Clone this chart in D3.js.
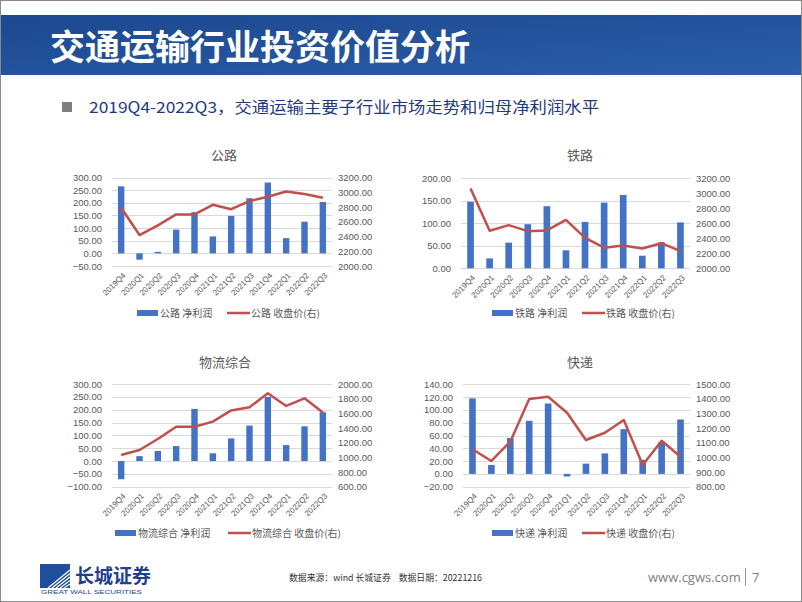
<!DOCTYPE html>
<html><head><meta charset="utf-8">
<script src="https://cdn.jsdelivr.net/npm/d3@7/dist/d3.min.js"></script>
<style>
html,body{margin:0;padding:0;background:#fff;}
svg{display:block;font-family:"Liberation Sans","Noto Sans CJK SC",sans-serif;}
</style></head>
<body>
<script>
// ---------- DATA ----------
const categories = ["2019Q4","2020Q1","2020Q2","2020Q3","2020Q4","2021Q1","2021Q2","2021Q3","2021Q4","2022Q1","2022Q2","2022Q3"];

const glProfit = [265,-25,6,94,163,67,148,218,280,60,125,203];
const glClose  = [2790,2420,2550,2700,2700,2830,2770,2880,2940,3010,2975,2925];
const glLeftTicks  = [-50,0,50,100,150,200,250,300];
const glRightTicks = [2000,2200,2400,2600,2800,3000,3200];

const tlProfit = [148,22,57,98,138,40,103,146,163,28,58,102];
const tlClose  = [3065,2500,2575,2495,2505,2645,2405,2275,2305,2265,2335,2230];
const tlLeftTicks  = [0,50,100,150,200];
const tlRightTicks = [2000,2200,2400,2600,2800,3000,3200];

const wlProfit = [-71,19,39,58,203,30,88,138,250,62,135,190];
const wlClose  = [1032,1100,1250,1418,1418,1487,1640,1683,1874,1701,1805,1610];
const wlLeftTicks  = [-100,-50,0,50,100,150,200,250,300];
const wlRightTicks = [600,800,1000,1200,1400,1600,1800,2000];

const kdProfit = [118,14,56,83,110,-4,16,32,70,22,49,85];
const kdClose  = [1056,976,1108,1400,1415,1306,1119,1169,1256,948,1114,1005];
const kdLeftTicks  = [-20,0,20,40,60,80,100,120,140];
const kdRightTicks = [800,900,1000,1100,1200,1300,1400,1500];

const chartNames = ["公路","铁路","物流综合","快递"];

// ---------- LAYOUT ----------
const W = 802, H = 602;
const svg = d3.select("body").append("svg").attr("width", W).attr("height", H);

const defs = svg.append("defs");
const grad = defs.append("linearGradient").attr("id","hdr").attr("x1","0").attr("y1","0").attr("x2","1").attr("y2","1");
grad.append("stop").attr("offset","0%").attr("stop-color","#1b4890");
grad.append("stop").attr("offset","100%").attr("stop-color","#2b5ea8");

svg.append("rect").attr("x",0).attr("y",0).attr("width",W).attr("height",H).attr("fill","#fff");

// header band
svg.append("rect").attr("x",1).attr("y",15).attr("width",W-2).attr("height",60).attr("fill","url(#hdr)");
svg.append("text").attr("x",50).attr("y",60).attr("fill","#fff")
  .style("font-family","'Noto Sans CJK SC',sans-serif").style("font-size","35px").style("font-weight","700")
  .attr("textLength",420).attr("lengthAdjust","spacingAndGlyphs")
  .text("交通运输行业投资价值分析");

// subtitle
svg.append("rect").attr("x",62).attr("y",102).attr("width",10).attr("height",10).attr("fill","#7f7f7f");
svg.append("text").attr("x",89).attr("y",113).attr("fill","#1f3a80")
  .style("font-family","'Noto Sans CJK SC',sans-serif").style("font-size","15.5px")
  .attr("textLength",510).attr("lengthAdjust","spacingAndGlyphs")
  .text("2019Q4-2022Q3，交通运输主要子行业市场走势和归母净利润水平");

// ---------- CHARTS ----------
const charts = [
  {name:chartNames[0], profit:glProfit, close:glClose, lt:glLeftTicks, rt:glRightTicks,
   x0:112, x1:332, yT:177.5, yB:266, titleX:224, titleY:160, legY:313, legX:137},
  {name:chartNames[1], profit:tlProfit, close:tlClose, lt:tlLeftTicks, rt:tlRightTicks,
   x0:461, x1:690, yT:178.3, yB:268.3, titleX:580, titleY:160, legY:313, legX:492},
  {name:chartNames[2], profit:wlProfit, close:wlClose, lt:wlLeftTicks, rt:wlRightTicks,
   x0:112, x1:332, yT:384, yB:486.7, titleX:225, titleY:367, legY:533, legX:115},
  {name:chartNames[3], profit:kdProfit, close:kdClose, lt:kdLeftTicks, rt:kdRightTicks,
   x0:463, x1:690, yT:384.3, yB:486.7, titleX:580, titleY:367, legY:533, legX:492}
];

const barColor = "#4472c4", lineColor = "#c0504d", txt = "#595959";
const fmt = d3.format(".2f");

charts.forEach(c => {
  const g = svg.append("g");
  const x = d3.scaleBand().domain(categories).range([c.x0, c.x1]).paddingInner(0).paddingOuter(0);
  const yL = d3.scaleLinear().domain([d3.min(c.lt), d3.max(c.lt)]).range([c.yB, c.yT]);
  const yR = d3.scaleLinear().domain([d3.min(c.rt), d3.max(c.rt)]).range([c.yB, c.yT]);

  // title
  g.append("text").attr("x",c.titleX).attr("y",c.titleY).attr("text-anchor","middle")
    .attr("fill",txt).style("font-size","13px").style("font-family","'Noto Sans CJK SC',sans-serif").text(c.name);

  // gridlines
  g.append("g").selectAll("line").data(c.lt).join("line")
    .attr("x1",c.x0).attr("x2",c.x1).attr("y1",d=>Math.round(yL(d))+0.5).attr("y2",d=>Math.round(yL(d))+0.5)
    .attr("stroke","#d9d9d9").attr("stroke-width",1);

  // left axis
  const la = d3.axisLeft(yL).tickValues(c.lt).tickFormat(fmt).tickSize(0).tickPadding(10);
  const lg = g.append("g").attr("transform",`translate(${c.x0},0)`).call(la);
  lg.select(".domain").remove();
  lg.selectAll("text").attr("fill",txt).style("font-size","9.5px").style("font-family","'Liberation Sans',sans-serif");

  // right axis
  const ra = d3.axisRight(yR).tickValues(c.rt).tickFormat(fmt).tickSize(0).tickPadding(6);
  const rg = g.append("g").attr("transform",`translate(${c.x1},0)`).call(ra);
  rg.select(".domain").remove();
  rg.selectAll("text").attr("fill",txt).style("font-size","9.5px").style("font-family","'Liberation Sans',sans-serif");

  // bars
  const bw = x.bandwidth()*0.35;
  g.append("g").selectAll("rect").data(c.profit).join("rect")
    .attr("x",(d,i)=>x(categories[i])+x.bandwidth()/2-bw/2)
    .attr("width",bw)
    .attr("y",d=>Math.min(yL(d),yL(0)))
    .attr("height",d=>Math.abs(yL(d)-yL(0)))
    .attr("fill",barColor);

  // line
  const line = d3.line().x((d,i)=>x(categories[i])+x.bandwidth()/2).y(d=>yR(d));
  g.append("path").datum(c.close).attr("d",line).attr("fill","none")
    .attr("stroke",lineColor).attr("stroke-width",2.5).attr("stroke-linejoin","round");

  // x labels
  g.append("g").selectAll("text").data(categories).join("text")
    .attr("transform",d=>`translate(${x(d)+x.bandwidth()/2+3},${c.yB+8}) rotate(-45)`)
    .attr("text-anchor","end").attr("dy","0.35em")
    .attr("fill",txt).style("font-size","8px").style("font-family","'Liberation Sans',sans-serif")
    .text(d=>d);

  // legend
  const lgd = g.append("g").attr("transform",`translate(${c.legX},${c.legY})`);
  lgd.append("rect").attr("x",0).attr("y",-3).attr("width",21).attr("height",6).attr("fill",barColor);
  lgd.append("text").attr("x",23).attr("y",0).attr("dy","0.35em").attr("fill",txt)
    .style("font-size","10px").style("font-family","'Noto Sans CJK SC',sans-serif").text(c.name+" 净利润");
  const off = c.name.length>2 ? 113 : 90;
  lgd.append("line").attr("x1",off).attr("x2",off+23).attr("y1",0).attr("y2",0)
    .attr("stroke",lineColor).attr("stroke-width",2.5);
  lgd.append("text").attr("x",off+24).attr("y",0).attr("dy","0.35em").attr("fill",txt)
    .style("font-size","10px").style("font-family","'Noto Sans CJK SC',sans-serif").text(c.name+" 收盘价(右)");
});

// ---------- FOOTER ----------
const logo = svg.append("g");
logo.append("rect").attr("x",40).attr("y",564).attr("width",30).attr("height",24).attr("fill","#1f4e9c");
for (let i=0;i<5;i++){
  logo.append("line").attr("x1",48+i*4).attr("y1",588).attr("x2",70).attr("y2",570+i*3.5)
    .attr("stroke","#fff").attr("stroke-width",1.2);
}
logo.append("text").attr("x",75).attr("y",583).attr("fill","#1f3f8f")
  .style("font-family","'Noto Sans CJK SC',sans-serif").style("font-size","19px").style("font-weight","700")
  .text("长城证券");
logo.append("text").attr("x",41).attr("y",594).attr("fill","#1f3f8f")
  .style("font-size","5.5px").attr("textLength",101).attr("lengthAdjust","spacingAndGlyphs")
  .text("GREAT WALL SECURITIES");

svg.append("text").attr("x",289).attr("y",581).attr("fill","#333")
  .style("font-family","'Noto Sans CJK SC',sans-serif").style("font-size","9px")
  .attr("textLength",193).attr("lengthAdjust","spacingAndGlyphs")
  .text("数据来源：wind 长城证券\u00a0\u00a0\u00a0\u00a0数据日期：20221216");

svg.append("text").attr("x",648).attr("y",582).attr("fill","#808080")
  .style("font-family","'Open Sans',sans-serif").style("font-size","13px")
  .text("www.cgws.com");
svg.append("line").attr("x1",745.5).attr("x2",745.5).attr("y1",568).attr("y2",586).attr("stroke","#999").attr("stroke-width",1);
svg.append("text").attr("x",752).attr("y",582).attr("fill","#808080")
  .style("font-family","'Open Sans',sans-serif").style("font-size","13px").text("7");

// border
svg.append("rect").attr("x",0.5).attr("y",0.5).attr("width",W-1).attr("height",H-1)
  .attr("fill","none").attr("stroke","#8a8a8a").attr("stroke-width",1);
</script>
</body></html>
